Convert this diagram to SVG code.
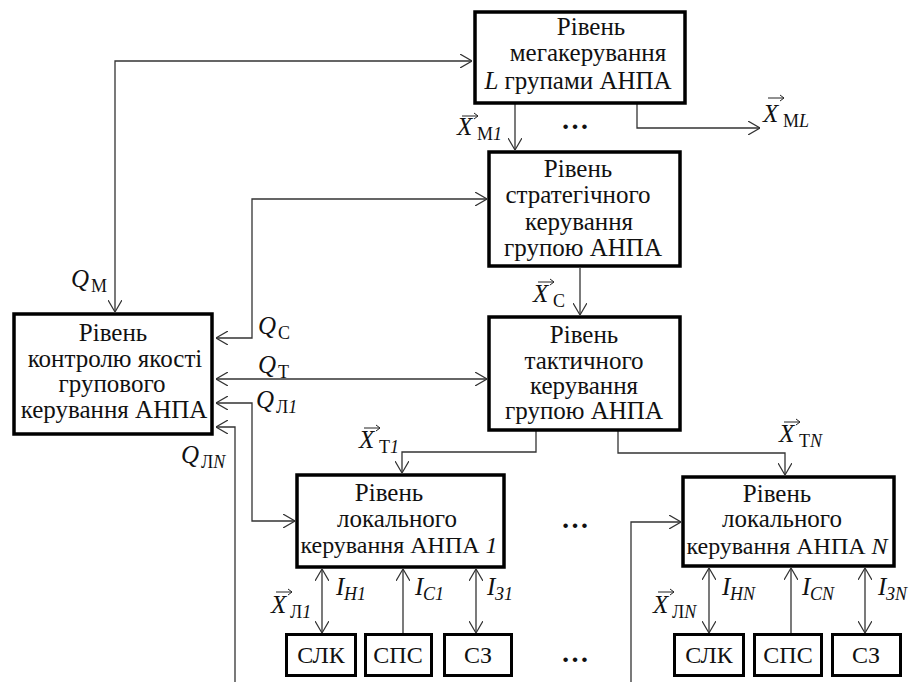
<svg xmlns="http://www.w3.org/2000/svg" width="912" height="682" viewBox="0 0 912 682">
<defs>
<marker id="ah" viewBox="0 0 12 14" refX="12" refY="7" markerWidth="12" markerHeight="14" markerUnits="userSpaceOnUse" orient="auto-start-reverse">
<path d="M0,0 L12,7 L0,14" fill="none" stroke="#333" stroke-width="1.2"/>
</marker>
<style>
.box{fill:#fff;stroke:#000;stroke-width:3.5}
.sbox{fill:#fff;stroke:#000;stroke-width:3}
.t{font-family:'Liberation Serif','Times New Roman',serif;font-size:25px;fill:#111;text-anchor:middle}
.t2{font-family:'Liberation Serif','Times New Roman',serif;font-size:24px;fill:#111;text-anchor:middle}
.st{font-family:'Liberation Serif','Times New Roman',serif;font-size:24px;fill:#111;text-anchor:middle}
.c{fill:none;stroke:#333;stroke-width:1.3}
.a{marker-end:url(#ah)}
.b{marker-start:url(#ah);marker-end:url(#ah)}
.s{marker-start:url(#ah)}
.m{font-family:'Liberation Serif','Times New Roman',serif;font-size:25px;fill:#111;font-style:italic}
.sub{font-family:'Liberation Serif','Times New Roman',serif;font-size:18px;fill:#111}
.i{font-style:italic}
.va{fill:none;stroke:#222;stroke-width:1}
.dots{font-family:'Liberation Serif','Times New Roman',serif;font-size:28px;fill:#111;font-weight:bold}
</style>
</defs>

<g id="connectors">
<path class="c a" d="M515,104 L515,150"/>
<path class="c a" d="M637,104 L637,128 L760,128"/>
<path class="c b" d="M115,312 L115,61 L472,61"/>
<path class="c b" d="M216,338 L252,338 L252,199 L487,199"/>
<path class="c b" d="M216,379 L487,379"/>
<path class="c b" d="M216,403 L252,403 L252,521 L295,521"/>
<path class="c s" d="M216,427 L235,427 L235,682"/>
<path class="c a" d="M631,682 L631,522 L681,522"/>
<path class="c a" d="M580,268 L580,315"/>
<path class="c a" d="M536,431 L536,452 L402,452 L402,473"/>
<path class="c a" d="M618,431 L618,453 L785,453 L785,475"/>
<path class="c b" d="M322,569 L322,633"/>
<path class="c a" d="M403,633 L403,569"/>
<path class="c b" d="M476,569 L476,633"/>
<path class="c b" d="M709,568 L709,633"/>
<path class="c a" d="M791,633 L791,568"/>
<path class="c b" d="M865,568 L865,633"/>
</g>

<g id="mega">
<rect class="box" x="475" y="12" width="210" height="91"/>
<text class="t" x="591" y="35">Рівень</text>
<text class="t" x="588" y="61">мегакерування</text>
<text class="t" x="578" y="89"><tspan class="i">L</tspan> групами АНПА</text>
</g>

<g id="strategic">
<rect class="box" x="489" y="152" width="191" height="114"/>
<text class="t" x="578" y="177">Рівень</text>
<text class="t" x="578" y="203">стратегічного</text>
<text class="t" x="579" y="230">керування</text>
<text class="t" x="583" y="256">групою АНПА</text>
</g>

<g id="tactical">
<rect class="box" x="489" y="317" width="191" height="113"/>
<text class="t" x="584" y="343">Рівень</text>
<text class="t" x="584" y="369">тактичного</text>
<text class="t" x="584" y="394">керування</text>
<text class="t" x="584" y="419">групою АНПА</text>
</g>

<g id="quality">
<rect class="box" x="14" y="314" width="198" height="120"/>
<text class="t" x="113" y="341">Рівень</text>
<text class="t" x="115" y="367">контролю якості</text>
<text class="t" x="112" y="392">групового</text>
<text class="t" x="114" y="418">керування АНПА</text>
</g>

<g id="local1">
<rect class="box" x="297" y="475" width="207" height="92"/>
<text class="t" x="389" y="501">Рівень</text>
<text class="t" x="397" y="527">локального</text>
<text class="t2" x="399" y="553">керування АНПА <tspan class="i">1</tspan></text>
</g>

<g id="localN">
<rect class="box" x="683" y="477" width="211" height="89"/>
<text class="t" x="777" y="502">Рівень</text>
<text class="t" x="782" y="527">локального</text>
<text class="t2" x="787" y="554">керування АНПА <tspan class="i">N</tspan></text>
</g>

<g id="slk1"><rect class="sbox" x="286.5" y="634.5" width="69" height="41"/><text class="st" x="321" y="663">СЛК</text></g>
<g id="sps1"><rect class="sbox" x="365.5" y="634.5" width="66" height="41"/><text class="st" x="398" y="663">СПС</text></g>
<g id="sz1"><rect class="sbox" x="444.5" y="634.5" width="67" height="41"/><text class="st" x="478" y="663">СЗ</text></g>
<g id="slkN"><rect class="sbox" x="674.5" y="634.5" width="69" height="41"/><text class="st" x="709" y="663">СЛК</text></g>
<g id="spsN"><rect class="sbox" x="754.5" y="634.5" width="67" height="41"/><text class="st" x="788" y="663">СПС</text></g>
<g id="szN"><rect class="sbox" x="832.5" y="634.5" width="68" height="41"/><text class="st" x="866" y="663">СЗ</text></g>

<g id="labels">
<text class="dots" x="561" y="129">…</text>
<text class="dots" x="561" y="528">…</text>
<text class="dots" x="561" y="662">…</text>

<path class="va" d="M462,116 L478,116 M474,113 L478,116 L474,119"/>
<text class="m" x="457" y="135">X</text>
<text class="sub" x="477" y="140">М<tspan class="i">1</tspan></text>

<path class="va" d="M768,98 L784,98 M780,95 L784,98 L780,101"/>
<text class="m" x="763" y="122">X</text>
<text class="sub" x="783" y="127">М<tspan class="i">L</tspan></text>

<text class="m" x="71" y="287">Q</text>
<text class="sub" x="91" y="292">М</text>

<text class="m" x="258" y="334">Q</text>
<text class="sub" x="278" y="339">С</text>

<text class="m" x="258" y="373">Q</text>
<text class="sub" x="278" y="378">Т</text>

<text class="m" x="256" y="408">Q</text>
<text class="sub" x="276" y="413">Л<tspan class="i">1</tspan></text>

<text class="m" x="181" y="463">Q</text>
<text class="sub" x="201" y="468">Л<tspan class="i">N</tspan></text>

<path class="va" d="M538,282 L554,282 M550,279 L554,282 L550,285"/>
<text class="m" x="533" y="302">X</text>
<text class="sub" x="553" y="307">С</text>

<path class="va" d="M364,428 L380,428 M376,425 L380,428 L376,431"/>
<text class="m" x="359" y="448">X</text>
<text class="sub" x="379" y="453">Т<tspan class="i">1</tspan></text>

<path class="va" d="M784,422 L800,422 M796,419 L800,422 L796,425"/>
<text class="m" x="779" y="442">X</text>
<text class="sub" x="799" y="447">Т<tspan class="i">N</tspan></text>

<text class="m" x="336" y="595">I</text>
<text class="sub i" x="344" y="600">H1</text>
<text class="m" x="415" y="595">I</text>
<text class="sub i" x="423" y="600">C1</text>
<text class="m" x="487" y="595">I</text>
<text class="sub i" x="495" y="600">З1</text>

<path class="va" d="M276,592 L292,592 M288,589 L292,592 L288,595"/>
<text class="m" x="271" y="613">X</text>
<text class="sub" x="290" y="618">Л<tspan class="i">1</tspan></text>

<text class="m" x="722" y="595">I</text>
<text class="sub i" x="730" y="600">HN</text>
<text class="m" x="802" y="595">I</text>
<text class="sub i" x="810" y="600">CN</text>
<text class="m" x="878" y="595">I</text>
<text class="sub i" x="886" y="600">ЗN</text>

<path class="va" d="M658,592 L674,592 M670,589 L674,592 L670,595"/>
<text class="m" x="653" y="613">X</text>
<text class="sub" x="672" y="618">Л<tspan class="i">N</tspan></text>
</g>
</svg>
